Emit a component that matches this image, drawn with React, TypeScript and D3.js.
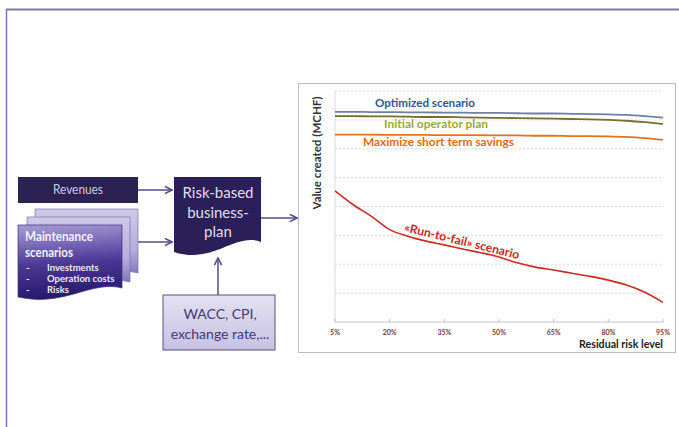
import React from "react";
import * as d3 from "d3";

const riskLevels = [5, 10, 15, 20, 25, 30, 35, 40, 45, 50, 55, 60, 65, 70, 75, 80, 85, 90, 95];
const optimized = [7.28, 7.28, 7.27, 7.27, 7.26, 7.26, 7.25, 7.25, 7.24, 7.24, 7.23, 7.22, 7.22, 7.21, 7.2, 7.19, 7.17, 7.13, 7.08];
const initialPlan = [7.13, 7.13, 7.12, 7.12, 7.11, 7.1, 7.1, 7.09, 7.08, 7.07, 7.06, 7.05, 7.04, 7.03, 7.02, 7.0, 6.97, 6.92, 6.85];
const maximizeSavings = [6.49, 6.49, 6.49, 6.48, 6.48, 6.48, 6.47, 6.47, 6.47, 6.46, 6.46, 6.45, 6.45, 6.44, 6.44, 6.43, 6.41, 6.37, 6.31];
const runToFail = [4.54, 4.06, 3.66, 3.2, 2.97, 2.8, 2.67, 2.53, 2.4, 2.25, 2.05, 1.9, 1.8, 1.69, 1.58, 1.45, 1.28, 1.03, 0.68];
const tickLevels = [5, 20, 35, 50, 65, 80, 95];
const gridValues = [1, 2, 3, 4, 5, 6, 7, 8];
const bulletItems = ["Investments", "Operation costs", "Risks"];

const FONT = "Lato, 'Open Sans', sans-serif";

export default function App() {
  const x = d3.scaleLinear().domain([5, 95]).range([335, 663]);
  const y = d3.scaleLinear().domain([0, 8]).range([322, 91]);
  const line = (vals: number[]) =>
    d3
      .line<number>()
      .x((_, i) => x(riskLevels[i]))
      .y((v) => y(v))
      .curve(d3.curveMonotoneX)(vals) || "";

  const docPath = (x0: number, y0: number, w: number, hl: number, hr: number, amp: number) => {
    const x1 = x0 + w;
    return `M${x0},${y0} H${x1} V${y0 + hr} C${x1 - w * 0.3},${y0 + hr - amp} ${x0 + w * 0.45},${y0 + hl + amp * 1.3} ${x0},${y0 + hl} Z`;
  };

  const arrowColor = "#5a4a8c";

  return (
    <svg
      width={679}
      height={427}
      style={{ position: "absolute", left: 0, top: 0, background: "#fff" }}
      fontFamily={FONT}
    >
      <defs>
        <marker id="ah" viewBox="0 0 10 10" refX="9" refY="5" markerWidth="6" markerHeight="6" orient="auto">
          <path d="M1,1 L9,5 L1,9" fill="none" stroke={arrowColor} strokeWidth="1.8" />
        </marker>
        <linearGradient id="frontGrad" x1="0" y1="0" x2="0.1" y2="1">
          <stop offset="0%" stopColor="#a69dd2" />
          <stop offset="25%" stopColor="#8070bd" />
          <stop offset="55%" stopColor="#4c3896" />
          <stop offset="100%" stopColor="#26196c" />
        </linearGradient>
        <linearGradient id="backGrad" x1="0" y1="0" x2="0" y2="1">
          <stop offset="0%" stopColor="#cfcbe8" />
          <stop offset="55%" stopColor="#b4acda" />
          <stop offset="100%" stopColor="#6d60ac" />
        </linearGradient>
        <linearGradient id="waccGrad" x1="0" y1="0" x2="0" y2="1">
          <stop offset="0%" stopColor="#e4e1f2" />
          <stop offset="100%" stopColor="#c6c1e2" />
        </linearGradient>
      </defs>

      {/* outer frame */}
      <line x1={6} y1={9.5} x2={679} y2={9.5} stroke="#7c7aac" strokeWidth={2} />
      <line x1={6.5} y1={9} x2={6.5} y2={427} stroke="#6f78aa" strokeWidth={1.5} />

      {/* Revenues */}
      <rect x={18} y={177} width={120} height={26} fill="#2b2152" />
      <text x={78} y={194} textAnchor="middle" fill="#cfcbe2" fontSize={12.5} textLength={50} lengthAdjust="spacingAndGlyphs">
        Revenues
      </text>

      {/* maintenance stacked docs */}
      <path d={docPath(35, 209, 103, 73, 64, 8)} fill="url(#backGrad)" stroke="#7a70ae" strokeWidth={0.7} />
      <path d={docPath(27, 217, 103, 73, 65, 8)} fill="url(#backGrad)" stroke="#7a70ae" strokeWidth={0.7} />
      <path d={docPath(18, 225, 104, 72, 63, 8)} fill="url(#frontGrad)" stroke="#3a2c80" strokeWidth={0.7} />
      <text x={25} y={241} fill="#f4f2fb" fontSize={13} fontWeight="bold" textLength={68} lengthAdjust="spacingAndGlyphs">
        Maintenance
      </text>
      <text x={25} y={257} fill="#f4f2fb" fontSize={13} fontWeight="bold" textLength={48} lengthAdjust="spacingAndGlyphs">
        scenarios
      </text>
      {bulletItems.map((b, i) => (
        <g key={b}>
          <text x={26} y={270.5 + i * 11.3} fill="#ecebf6" fontSize={9.5} fontWeight="bold">
            -
          </text>
          <text x={47} y={270.5 + i * 11.3} fill="#ecebf6" fontSize={9.5} fontWeight="bold">
            {b}
          </text>
        </g>
      ))}

      {/* Risk-based business plan */}
      <path d={docPath(174, 177, 87, 75, 65, 10)} fill="#2a1f58" />
      {["Risk-based", "business-", "plan"].map((t, i) => (
        <text key={t} x={218} y={198 + i * 19.5} textAnchor="middle" fill="#e2def0" fontSize={15}>
          {t}
        </text>
      ))}

      {/* WACC box */}
      <rect x={163} y={295} width={112} height={55} fill="url(#waccGrad)" stroke="#5a5082" strokeWidth={1} />
      <text x={220} y={319} textAnchor="middle" fill="#41387a" fontSize={14}>
        WACC, CPI,
      </text>
      <text x={220} y={339} textAnchor="middle" fill="#41387a" fontSize={14}>
        exchange rate,...
      </text>

      {/* arrows */}
      <line x1={138} y1={190} x2={172} y2={190} stroke={arrowColor} strokeWidth={1.5} markerEnd="url(#ah)" />
      <line x1={138} y1={242} x2={172} y2={242} stroke={arrowColor} strokeWidth={1.5} markerEnd="url(#ah)" />
      <line x1={218} y1={295} x2={218} y2={258} stroke={arrowColor} strokeWidth={1.5} markerEnd="url(#ah)" />
      <line x1={261} y1={218} x2={297} y2={218} stroke={arrowColor} strokeWidth={1.5} markerEnd="url(#ah)" />

      {/* chart box */}
      <rect x={298.5} y={83.5} width={377} height={269} fill="#fff" stroke="#bdbdbd" strokeWidth={1} />

      {/* gridlines */}
      {gridValues.map((g) => (
        <line
          key={g}
          x1={x(5)}
          x2={x(95)}
          y1={y(g)}
          y2={y(g)}
          stroke="#cfcfcf"
          strokeWidth={0.8}
          strokeDasharray="2,2"
        />
      ))}
      <line x1={x(5)} x2={x(5)} y1={y(8)} y2={y(0)} stroke="#d0d0d0" strokeWidth={0.8} />
      <line x1={x(5)} x2={x(95)} y1={y(0)} y2={y(0)} stroke="#c4c4c4" strokeWidth={1} />
      {tickLevels.map((t) => (
        <g key={t}>
          <line x1={x(t)} x2={x(t)} y1={y(0)} y2={y(0) - 3} stroke="#b0b0b0" strokeWidth={0.8} />
          <text x={x(t)} y={y(0) + 13} textAnchor="middle" fontSize={7} fontWeight="bold" fill="#6e3a3a">
            {t}%
          </text>
        </g>
      ))}

      {/* series */}
      <path d={line(maximizeSavings)} fill="none" stroke="#e2731e" strokeWidth={1.8} />
      <path d={line(initialPlan)} fill="none" stroke="#72702c" strokeWidth={1.8} />
      <path d={line(optimized)} fill="none" stroke="#6c80a8" strokeWidth={1.8} />
      <path d={line(runToFail)} fill="none" stroke="#cc2a22" strokeWidth={1.6} />

      {/* labels */}
      <text x={375} y={107} fill="#2f5597" fontSize={12} fontWeight="bold" textLength={100} lengthAdjust="spacingAndGlyphs">
        Optimized scenario
      </text>
      <text x={384} y={128} fill="#9aab2a" fontSize={12} fontWeight="bold" textLength={104} lengthAdjust="spacingAndGlyphs">
        Initial operator plan
      </text>
      <text x={363} y={146} fill="#e36a12" fontSize={12} fontWeight="bold" textLength={151} lengthAdjust="spacingAndGlyphs">
        Maximize short term savings
      </text>
      <text
        transform="translate(462,241) rotate(13.7)"
        textAnchor="middle"
        dy="0.35em"
        fill="#c8261e"
        fontSize={12}
        fontWeight="bold"
        textLength={118}
        lengthAdjust="spacingAndGlyphs"
      >
        «Run-to-fail» scenario
      </text>
      <text
        transform="translate(317,153) rotate(-90)"
        textAnchor="middle"
        dy="0.35em"
        fill="#333"
        fontSize={11}
        fontWeight="bold"
        textLength={113}
        lengthAdjust="spacingAndGlyphs"
      >
        Value created (MCHF)
      </text>
      <text x={663} y={348} textAnchor="end" fill="#222" fontSize={11} fontWeight="bold" textLength={84} lengthAdjust="spacingAndGlyphs">
        Residual risk level
      </text>
    </svg>
  );
}
